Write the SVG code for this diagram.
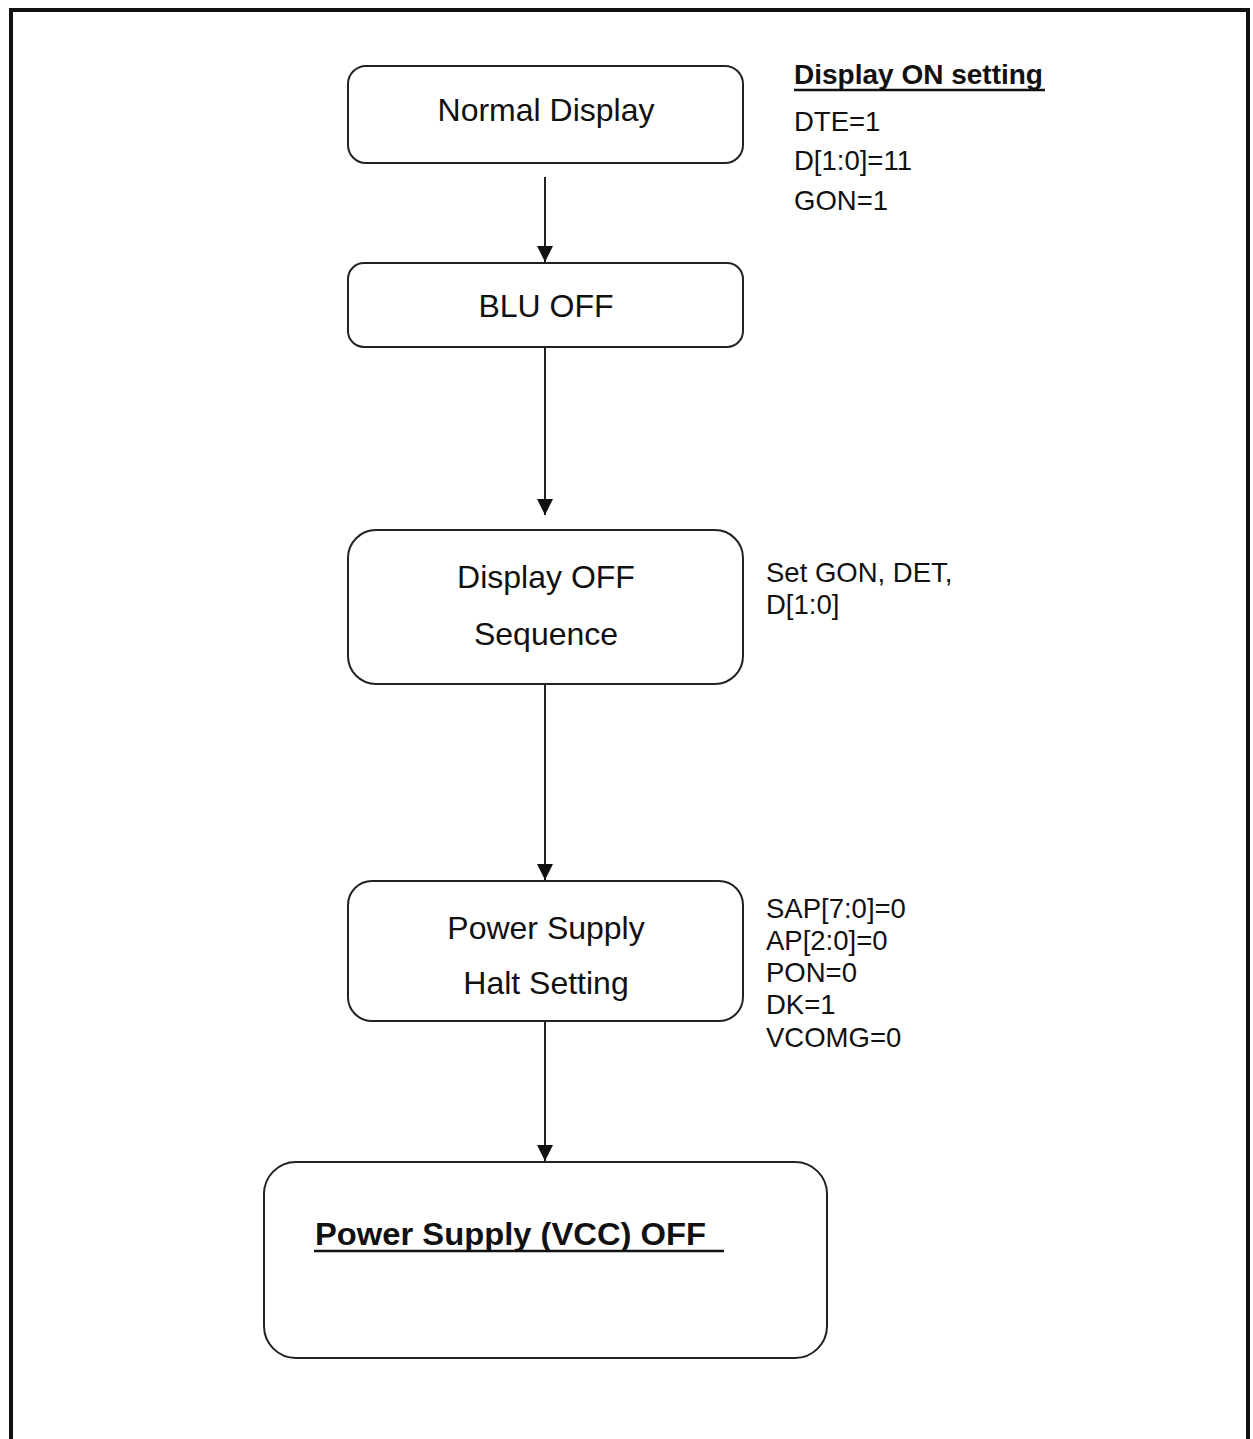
<svg xmlns="http://www.w3.org/2000/svg" width="1253" height="1439" viewBox="0 0 1253 1439">
<style>
.box{fill:#fff;stroke:#222;stroke-width:2}
.nt{font-family:"Liberation Sans",Arial,sans-serif;font-size:32px;fill:#111;text-anchor:middle}
.st{font-family:"Liberation Sans",Arial,sans-serif;font-size:27.5px;fill:#111}
.bt{font-family:"Liberation Sans",Arial,sans-serif;font-weight:bold;fill:#111}
.conn{stroke:#222;stroke-width:2;fill:none}
</style>
<defs>
<marker id="ah" viewBox="0 0 16 16" refX="16" refY="8" markerWidth="16" markerHeight="16" markerUnits="userSpaceOnUse" orient="auto">
<path d="M0,0 L16,8 L0,16 Z" fill="#111"/>
</marker>
</defs>
<rect width="1253" height="1439" fill="#fff"/>
<path d="M11,1439 V10 H1248 V1439" fill="none" stroke="#111" stroke-width="4"/>
<g id="connectors">
<line class="conn" x1="545" y1="177" x2="545" y2="262" marker-end="url(#ah)"/>
<line class="conn" x1="545" y1="347" x2="545" y2="515" marker-end="url(#ah)"/>
<line class="conn" x1="545" y1="684" x2="545" y2="880" marker-end="url(#ah)"/>
<line class="conn" x1="545" y1="1021" x2="545" y2="1161" marker-end="url(#ah)"/>
</g>
<g id="normal-display">
<rect class="box" x="348" y="66" width="395" height="97" rx="18"/>
<text class="nt" x="546" y="121">Normal Display</text>
</g>
<g id="display-on-setting">
<text class="bt" x="794" y="84" font-size="28">Display ON setting</text>
<line x1="794" y1="90" x2="1045" y2="90" stroke="#111" stroke-width="2.5"/>
<text class="st" x="794" y="131">DTE=1</text>
<text class="st" x="794" y="170">D[1:0]=11</text>
<text class="st" x="794" y="210">GON=1</text>
</g>
<g id="blu-off">
<rect class="box" x="348" y="263" width="395" height="84" rx="16"/>
<text class="nt" x="546" y="317">BLU OFF</text>
</g>
<g id="display-off-sequence">
<rect class="box" x="348" y="530" width="395" height="154" rx="28"/>
<text class="nt" x="546" y="588">Display OFF</text>
<text class="nt" x="546" y="645">Sequence</text>
</g>
<g id="display-off-note">
<text class="st" x="766" y="582">Set GON, DET,</text>
<text class="st" x="766" y="614">D[1:0]</text>
</g>
<g id="power-supply-halt">
<rect class="box" x="348" y="881" width="395" height="140" rx="24"/>
<text class="nt" x="546" y="939">Power Supply</text>
<text class="nt" x="546" y="994">Halt Setting</text>
</g>
<g id="halt-note">
<text class="st" x="766" y="918">SAP[7:0]=0</text>
<text class="st" x="766" y="950">AP[2:0]=0</text>
<text class="st" x="766" y="982">PON=0</text>
<text class="st" x="766" y="1014">DK=1</text>
<text class="st" x="766" y="1047">VCOMG=0</text>
</g>
<g id="vcc-off">
<rect class="box" x="264" y="1162" width="563" height="196" rx="32"/>
<text class="bt" x="315" y="1245" font-size="32" textLength="391" lengthAdjust="spacingAndGlyphs">Power Supply (VCC) OFF</text>
<line x1="314" y1="1251" x2="724" y2="1251" stroke="#111" stroke-width="2.5"/>
</g>
</svg>
